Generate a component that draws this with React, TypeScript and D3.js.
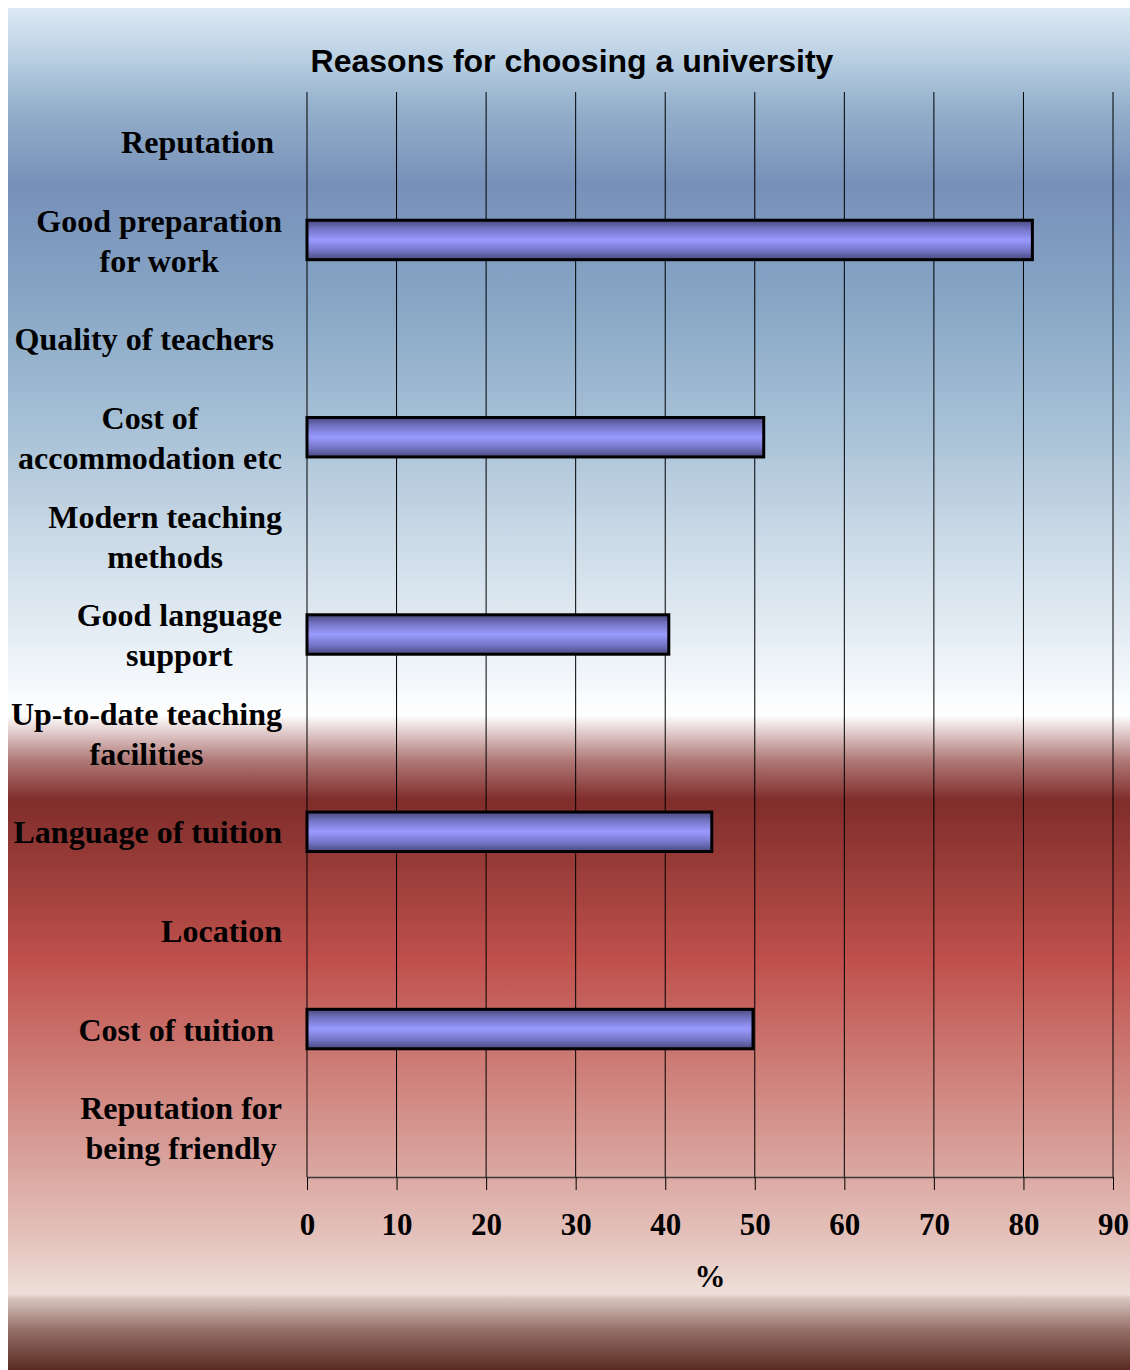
import React, { useEffect, useRef } from 'react';
import * as d3 from 'd3';

// Categories, top to bottom (line breaks as in the original labels)
const categories = [
  'Reputation ',
  'Good preparation|for work',
  'Quality of teachers ',
  'Cost of|accommodation etc',
  'Modern teaching|methods',
  'Good language|support',
  'Up-to-date teaching|facilities',
  'Language of tuition',
  'Location',
  'Cost of tuition ',
  'Reputation for|being friendly',
];

// Percentages, null where no bar is drawn
const values: (number | null)[] = [null, 81, null, 51, null, 40.4, null, 45.2, null, 49.8, null];

const xTicks = [0, 10, 20, 30, 40, 50, 60, 70, 80, 90];

const chartTitle = 'Reasons for choosing a university';
const xTitle = '%';

// Background gradient stops (page y, colour)
const bgStops: [number, string][] = [
  [8, '#dde9f4'],
  [60, '#b8cfe2'],
  [110, '#93afca'],
  [185, '#7790b9'],
  [300, '#87a6c5'],
  [420, '#a5bfd5'],
  [540, '#cbdae7'],
  [640, '#e6eef5'],
  [715, '#ffffff'],
  [760, '#b07a78'],
  [800, '#802d2b'],
  [880, '#9e3f3b'],
  [960, '#bf504c'],
  [1050, '#cb7670'],
  [1150, '#d89e98'],
  [1240, '#e4c3bc'],
  [1294, '#eedfd9'],
  [1298, '#d9c6c0'],
  [1330, '#957068'],
  [1370, '#592c22'],
];

const App: React.FC = () => {
  const ref = useRef<SVGSVGElement>(null);

  useEffect(() => {
    const width = 1122;
    const height = 1362;
    const marginTop = 84;
    const marginRight = 17;
    const marginLeft = 299;
    const axisY = 1169;
    const labelRight = 274;

    const svg = d3.select(ref.current).attr('width', width).attr('height', height);
    svg.selectAll('*').remove();

    const defs = svg.append('defs');
    const bg = defs
      .append('linearGradient')
      .attr('id', 'bg')
      .attr('gradientUnits', 'userSpaceOnUse')
      .attr('x1', 0).attr('x2', 0)
      .attr('y1', 0).attr('y2', height);
    bgStops.forEach(([y, c]) => {
      bg.append('stop').attr('offset', (y - 8) / height).attr('stop-color', c);
    });

    const barGrad = defs
      .append('linearGradient')
      .attr('id', 'bar')
      .attr('x1', 0).attr('x2', 0)
      .attr('y1', 0).attr('y2', 1);
    [
      [0, '#48487e'],
      [0.22, '#7474c4'],
      [0.5, '#9a9aff'],
      [0.78, '#7474c4'],
      [1, '#48487e'],
    ].forEach(([o, c]) => barGrad.append('stop').attr('offset', o).attr('stop-color', c as string));

    svg.append('rect').attr('width', width).attr('height', height).attr('fill', 'url(#bg)');

    const xScale = d3.scaleLinear().domain([0, 90]).range([marginLeft, width - marginRight]);
    const yScale = d3.scaleBand().domain(categories).range([marginTop, axisY]).padding(0);

    // vertical gridlines
    svg
      .append('g')
      .selectAll('line')
      .data(xTicks)
      .enter()
      .append('line')
      .attr('x1', (d) => xScale(d))
      .attr('x2', (d) => xScale(d))
      .attr('y1', marginTop)
      .attr('y2', axisY)
      .attr('stroke', '#000')
      .attr('stroke-width', 1);

    // bottom axis
    const axis = svg
      .append('g')
      .attr('transform', `translate(0,${axisY})`)
      .call(d3.axisBottom(xScale).tickValues(xTicks).tickSize(13).tickPadding(23).tickSizeOuter(0));
    axis.select('.domain').attr('stroke', '#3a3a3a').attr('stroke-width', 1.5);
    axis.selectAll('.tick line').attr('stroke', '#000');
    axis
      .selectAll('text')
      .attr('fill', '#000')
      .style('font-family', '"Liberation Serif", "Times New Roman", serif')
      .style('font-weight', 'bold')
      .style('font-size', '31px');

    // bars
    const barH = yScale.bandwidth() * 0.4;
    svg
      .append('g')
      .selectAll('rect')
      .data(categories.map((c, i) => ({ c, v: values[i] })).filter((d) => d.v !== null))
      .enter()
      .append('rect')
      .attr('x', xScale(0))
      .attr('y', (d) => (yScale(d.c) || 0) + yScale.bandwidth() / 2 - barH / 2)
      .attr('width', (d) => xScale(d.v as number) - xScale(0))
      .attr('height', barH)
      .attr('fill', 'url(#bar)')
      .attr('stroke', '#000')
      .attr('stroke-width', 3);

    // category labels: lines centred in a block right-aligned to the axis
    const lineH = 40;
    categories.forEach((cat) => {
      const lines = cat.split('|');
      const cy = (yScale(cat) || 0) + yScale.bandwidth() / 2;
      const g = svg.append('g');
      const texts = lines.map((ln, i) =>
        g
          .append('text')
          .text(ln)
          .attr('y', cy + 11.7 + (i - (lines.length - 1) / 2) * lineH)
          .style('white-space', 'pre')
          .style('font-family', '"Liberation Serif", "Times New Roman", serif')
          .style('font-weight', 'bold')
          .style('font-size', '32px')
          .attr('fill', '#000')
      );
      const maxW = d3.max(texts, (t) => (t.node() as SVGTextElement).getComputedTextLength()) || 0;
      texts.forEach((t) => t.attr('x', labelRight - maxW / 2).attr('text-anchor', 'middle'));
    });

    // titles
    svg
      .append('text')
      .text(chartTitle)
      .attr('x', 564)
      .attr('y', 64)
      .attr('text-anchor', 'middle')
      .style('font-family', '"Liberation Sans", Arial, sans-serif')
      .style('font-weight', 'bold')
      .style('font-size', '32px');

    svg
      .append('text')
      .text(xTitle)
      .attr('x', (xScale(0) + xScale(90)) / 2)
      .attr('y', 1279)
      .attr('text-anchor', 'middle')
      .style('font-family', '"Liberation Serif", "Times New Roman", serif')
      .style('font-weight', 'bold')
      .style('font-size', '31px');
  }, []);

  return (
    <>
      <style>{'body{margin:0;overflow:hidden}'}</style>
      <svg ref={ref} style={{ display: 'block', margin: '8px 0 0 8px' }}></svg>
    </>
  );
};

export default App;
